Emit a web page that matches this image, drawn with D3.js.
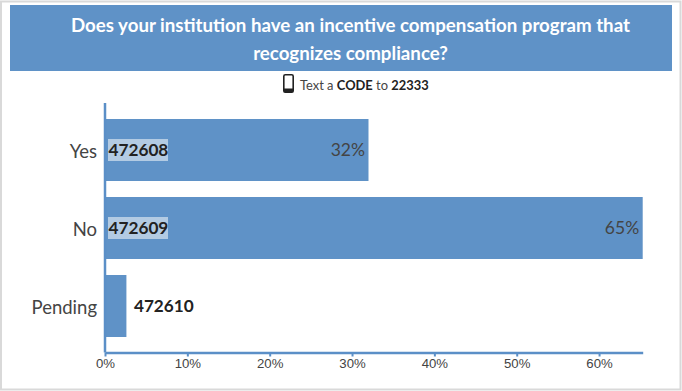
<!DOCTYPE html>
<html>
<head>
<meta charset="utf-8">
<script src="https://cdn.jsdelivr.net/npm/d3@7"></script>
<style>
	html, body { margin: 0; padding: 0; background: #fff; }
	svg { display: block; font-family: Lato, "Noto Sans", sans-serif; }
	.axis text { font-size: 13.2px; fill: #444; }
	.axis path, .axis line { stroke: #5b8fc7; }
</style>
</head>
<body>
<div id="chart"></div>
<script>
const categories = ["Yes", "No", "Pending"];
const values = [32, 65.3, 2.6];
const codes = ["472608", "472609", "472610"];
const percentLabels = ["32%", "65%", ""];
const xTicks = [0, 10, 20, 30, 40, 50, 60];
const titleLines = ["Does your institution have an incentive compensation program that", "recognizes compliance?"];

const width = 682, height = 391;
const margin = {top: 103, right: 39.3, bottom: 38.5, left: 105};
const blue = "#5f92c7";

const svg = d3.select("#chart").append("svg")
	.attr("width", width)
	.attr("height", height);

// window frame
svg.append("rect")
	.attr("x", 1).attr("y", 1.5)
	.attr("width", width - 2.5).attr("height", height - 3)
	.attr("fill", "none")
	.attr("stroke", "#d9d9d9")
	.attr("stroke-width", 2);

// header band
svg.append("rect")
	.attr("x", 10).attr("y", 5)
	.attr("width", 662).attr("height", 66)
	.attr("fill", blue);

svg.selectAll(".title")
	.data(titleLines)
	.enter().append("text")
	.attr("class", "title")
	.attr("x", 350.5)
	.attr("y", (d, i) => 31.5 + i * 28)
	.attr("text-anchor", "middle")
	.attr("fill", "#fff")
	.attr("font-weight", 700)
	.attr("font-size", 18.7)
	.text(d => d);

// phone icon
let phone = svg.append("g").attr("transform", "translate(283, 74)");
phone.append("rect")
	.attr("x", 0.8).attr("y", 0.8)
	.attr("width", 9.4).attr("height", 17.4)
	.attr("rx", 1.5)
	.attr("fill", "#fff")
	.attr("stroke", "#222")
	.attr("stroke-width", 1.6);
phone.append("rect")
	.attr("x", 0.8).attr("y", 14.5)
	.attr("width", 9.4).attr("height", 3.7)
	.attr("fill", "#222");

let sub = svg.append("text")
	.attr("x", 300)
	.attr("y", 90)
	.attr("font-size", 12.9)
	.attr("fill", "#444");
sub.append("tspan").text("Text a ");
sub.append("tspan").attr("font-weight", 700).attr("fill", "#222").text("CODE");
sub.append("tspan").text(" to ");
sub.append("tspan").attr("font-weight", 700).attr("fill", "#222").text("22333");

const scale = {
	x: d3.scaleLinear().domain([0, 65.3]).range([margin.left, width - margin.right]),
	y: d3.scaleBand().domain(categories).range([111, 345]).paddingInner(16 / 78).paddingOuter(8 / 78)
};

// bars
svg.selectAll(".bar")
	.data(categories)
	.enter().append("rect")
	.attr("class", "bar")
	.attr("x", margin.left)
	.attr("y", d => scale.y(d))
	.attr("width", (d, i) => scale.x(values[i]) - margin.left)
	.attr("height", scale.y.bandwidth())
	.attr("fill", blue);

// axes
svg.append("g")
	.attr("class", "axis x")
	.attr("transform", `translate(0, ${height - margin.bottom})`)
	.call(d3.axisBottom(scale.x).tickValues(xTicks).tickFormat(d => d + "%").tickSize(4).tickSizeOuter(0))
	.call(g => g.select(".domain").attr("stroke-width", 2.5))
	.call(g => g.selectAll(".tick line").attr("stroke-width", 2))
	.call(g => g.selectAll(".tick text").attr("dy", "0.65em"));

svg.append("line")
	.attr("x1", margin.left).attr("x2", margin.left)
	.attr("y1", margin.top).attr("y2", height - margin.bottom)
	.attr("stroke", "#5b8fc7")
	.attr("stroke-width", 2.5);

svg.selectAll(".cat")
	.data(categories)
	.enter().append("text")
	.attr("class", "cat")
	.attr("x", 97)
	.attr("y", d => scale.y(d) + scale.y.bandwidth() / 2 + 7.5)
	.attr("text-anchor", "end")
	.attr("font-size", 18.5)
	.attr("fill", "#444")
	.text(d => d);

// code labels, with a pale box when they sit on a bar
categories.forEach((c, i) => {
	let onBar = values[i] > 10;
	let xPos = onBar ? margin.left + 3 : scale.x(values[i]) + 7.5;
	let yMid = scale.y(c) + scale.y.bandwidth() / 2;
	if (onBar) {
		svg.append("rect")
			.attr("x", xPos).attr("y", yMid - 11)
			.attr("width", 60).attr("height", 22)
			.attr("fill", "#b3cbe3");
	}
	svg.append("text")
		.attr("x", xPos + (onBar ? 0.5 : 0))
		.attr("y", yMid + 6)
		.attr("font-size", 17.2)
		.attr("font-weight", 700)
		.attr("fill", "#222")
		.text(codes[i]);
	if (percentLabels[i]) {
		svg.append("text")
			.attr("x", scale.x(values[i]) - 3.5)
			.attr("y", yMid + 6)
			.attr("text-anchor", "end")
			.attr("font-size", 17.5)
			.attr("fill", "#444")
			.text(percentLabels[i]);
	}
});
</script>
</body>
</html>
